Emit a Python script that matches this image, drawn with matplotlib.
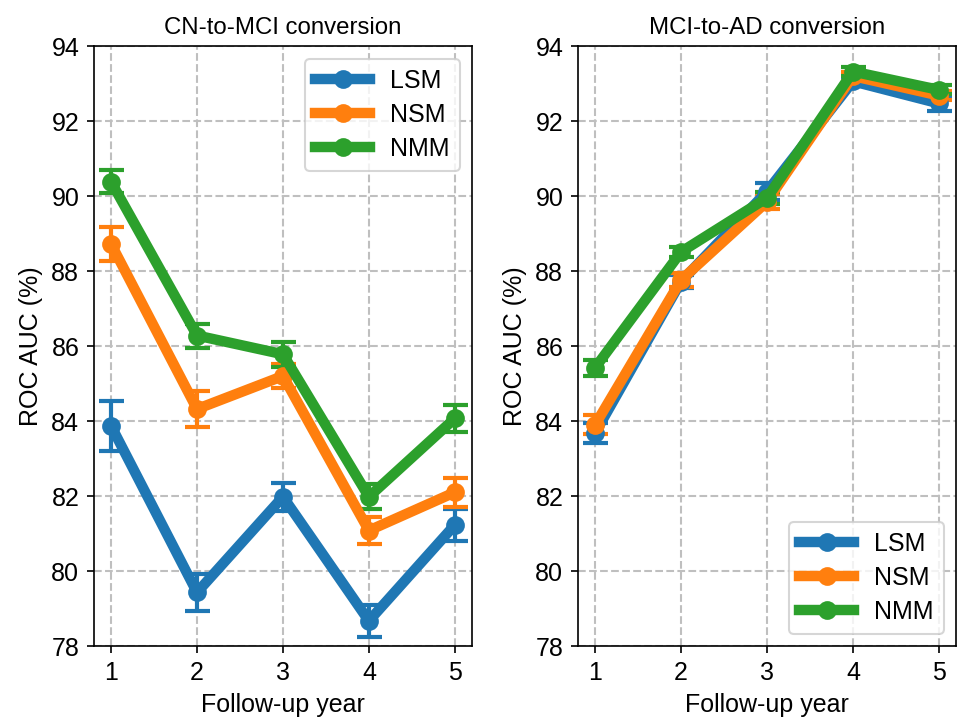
import numpy as np
import matplotlib
matplotlib.use("Agg")
import matplotlib.pyplot as plt

plt.rcParams['font.family'] = ['Liberation Sans', 'DejaVu Sans']
plt.rcParams['font.size'] = 12

years = [1, 2, 3, 4, 5]
models = ["LSM", "NSM", "NMM"]
colors = ["#1f77b4", "#ff7f0e", "#2ca02c"]

# CN-to-MCI conversion
cn_mean = {
    "LSM": [83.87, 79.43, 81.98, 78.67, 81.23],
    "NSM": [88.72, 84.32, 85.20, 81.08, 82.10],
    "NMM": [90.38, 86.28, 85.78, 81.98, 84.07],
}
cn_err = {
    "LSM": [0.67, 0.50, 0.38, 0.42, 0.42],
    "NSM": [0.45, 0.47, 0.33, 0.37, 0.39],
    "NMM": [0.31, 0.32, 0.33, 0.33, 0.37],
}

# MCI-to-AD conversion
ad_mean = {
    "LSM": [83.68, 87.72, 90.12, 93.06, 92.47],
    "NSM": [83.90, 87.76, 89.85, 93.20, 92.68],
    "NMM": [85.42, 88.51, 89.95, 93.32, 92.83],
}
ad_err = {
    "LSM": [0.27, 0.18, 0.22, 0.12, 0.20],
    "NSM": [0.25, 0.18, 0.20, 0.12, 0.12],
    "NMM": [0.22, 0.13, 0.15, 0.12, 0.12],
}

fig, axes = plt.subplots(1, 2, figsize=(958 / 150, 719 / 150), dpi=150)
fig.subplots_adjust(left=0.098, right=0.998, bottom=0.1015, top=0.936, wspace=0.28)


def draw_panel(ax, means, errs, title, loc):
    handles = []
    for m, c in zip(models, colors):
        eb = ax.errorbar(years, means[m], yerr=errs[m], fmt='-o', color=c,
                         linewidth=5, markersize=8, capsize=6, capthick=2,
                         elinewidth=2, label=m)
        handles.append(eb[0])
    ax.set_ylim(78, 94)
    ax.set_yticks(np.arange(78, 95, 2))
    ax.set_xticks(years)
    ax.tick_params(labelsize=12)
    ax.grid(True, linestyle='--', color='#bfbfbf', linewidth=1)
    ax.set_xlabel("Follow-up year", fontsize=12)
    ax.set_ylabel("ROC AUC (%)", fontsize=12)
    ax.set_title(title, fontsize=11.5)
    ax.legend(handles=handles, labels=models, loc=loc, fontsize=12,
              handlelength=2.2, labelspacing=0.4)


draw_panel(axes[0], cn_mean, cn_err, "CN-to-MCI conversion", "upper right")
draw_panel(axes[1], ad_mean, ad_err, "MCI-to-AD conversion", "lower right")

fig.savefig("out.png", dpi=150)
